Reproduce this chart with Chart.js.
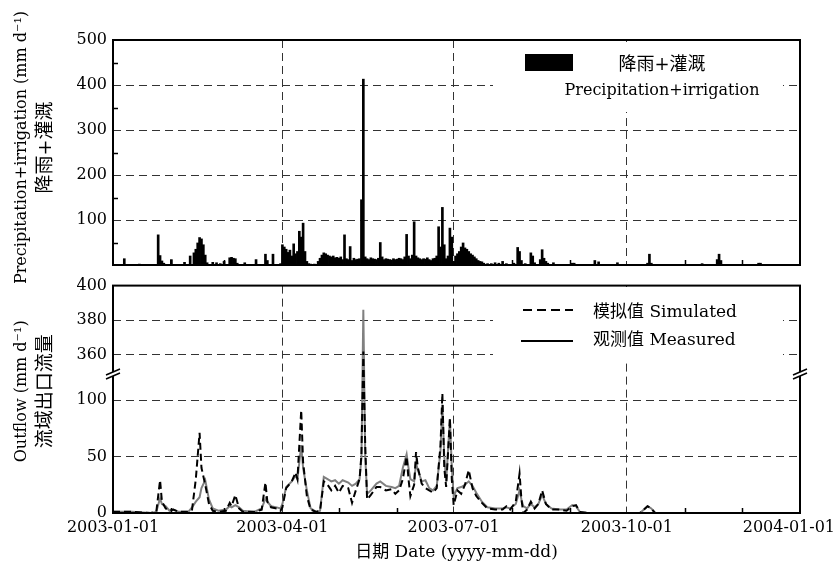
<!DOCTYPE html>
<html>
<head>
<meta charset="utf-8">
<script src="https://cdn.jsdelivr.net/npm/chart.js@4.4.1/dist/chart.umd.min.js"></script>
<style>
   html, body { margin: 0; padding: 0; background: #fff; }
   #wrap { position: relative; width: 836px; height: 570px; overflow: hidden; }
   canvas { position: absolute; left: 0; }
   #rainChart { top: 0; }
   #flowChart { top: 270px; }
</style>
</head>
<body>
<div id="wrap">
   <canvas id="rainChart" width="836" height="292"></canvas>
   <canvas id="flowChart" width="836" height="300"></canvas>
</div>
<script>
// x axis is day of year 2003 (0 = 2003-01-01)
const dayTicks = [0, 90, 181, 273, 365];
const dayTickLabels = ["2003-01-01", "2003-04-01", "2003-07-01", "2003-10-01", "2004-01-01"];
const monthDays = [31, 59, 120, 151, 212, 243, 304, 334];

const rainTicks = [0, 100, 200, 300, 400, 500];
const rainMinorTicks = [50, 150, 250, 350, 450];
const flowTicks = [0, 50, 100, 360, 380, 400];

// precipitation + irrigation (mm/d), daily bars
const rainDays = [6, 14, 24, 25, 26, 27, 31, 38, 41, 43, 44, 45, 46, 47, 48, 49, 50, 53, 55, 57, 59, 62, 63, 64, 65, 66, 70, 76, 81, 82, 85, 89,
   90, 91, 92, 93, 94, 95, 96, 97, 98, 99, 100, 101, 102, 103, 104, 105, 107, 109, 110, 111, 112, 113, 114, 115, 116, 117, 118, 119,
   120, 121, 122, 123, 124, 125, 126, 127, 128, 129, 130, 131, 132, 133, 134, 135, 136, 137, 138, 139, 140, 141, 142, 143, 144, 145,
   146, 147, 148, 149, 150, 151, 152, 153, 154, 155, 156, 157, 158, 159, 160, 161, 162, 163, 164, 165, 166, 167, 168, 169, 170, 171,
   172, 173, 174, 175, 176, 177, 178, 179, 180, 181, 182, 183, 184, 185, 186, 187, 188, 189, 190, 191, 192, 193, 194, 195, 196, 197,
   199, 201, 203, 205, 207, 209, 213, 215, 216, 217, 219, 222, 223, 224, 227, 228, 229, 230, 231, 234, 244, 245, 256, 258, 268,
   284, 285, 286, 313, 321, 322, 323, 343, 344];
const rainValues = [14, 2, 67, 21, 9, 4, 12, 6, 20, 27, 35, 49, 61, 58, 45, 22, 5, 6, 5, 3, 8, 16, 17, 15, 14, 4, 5, 12, 24, 10, 24, 3,
   45, 40, 35, 28, 33, 20, 47, 25, 30, 75, 62, 93, 30, 8, 3, 2, 2, 8, 15, 22, 27, 25, 22, 20, 18, 20, 16, 17,
   15, 18, 12, 67, 14, 12, 41, 10, 15, 12, 13, 14, 145, 413, 18, 14, 12, 16, 14, 13, 12, 15, 50, 18, 12, 14,
   13, 12, 11, 14, 12, 13, 15, 14, 12, 18, 68, 20, 14, 22, 96, 20, 16, 14, 12, 14, 13, 16, 12, 10, 14, 15,
   20, 85, 40, 128, 45, 14, 20, 82, 62, 8, 20, 25, 30, 40, 49, 38, 35, 30, 25, 22, 18, 14, 10, 8, 7, 4,
   3, 3, 5, 4, 8, 3, 4, 39, 30, 10, 3, 27, 20, 5, 12, 34, 15, 8, 4, 5, 4, 4, 10, 7, 5,
   4, 24, 4, 3, 12, 24, 10, 4, 4];

// outflow (mm/d)
const flowDays = [0, 10, 20, 23, 25, 26, 28, 30, 32, 35, 40, 42, 44, 46, 47, 49, 51, 53, 56, 60, 62, 63, 65, 67, 69, 75, 79, 81, 82, 84,
   87, 89, 90, 92, 95, 97, 98, 100, 101, 103, 105, 108, 110, 112, 114, 116, 118, 120, 122, 125, 127, 129, 131, 132, 133, 134, 135,
   137, 140, 142, 145, 148, 150, 152, 154, 156, 157, 158, 160, 161, 162, 164, 166, 168, 170, 172, 174, 175, 176, 177, 179, 180,
   181, 183, 185, 187, 189, 191, 193, 196, 199, 203, 207, 209, 211, 214, 216, 217, 218, 220, 222, 224, 226, 228, 230, 233, 237,
   241, 244, 246, 248, 252, 280, 284, 286, 288, 365];
const simulated = [1, 1, 0, 1, 29, 10, 4, 2, 3, 1, 1, 3, 30, 71, 40, 25, 8, 2, 1, 2, 9, 6, 16, 4, 1, 1, 3, 27, 10, 5,
   4, 2, 5, 22, 28, 36, 30, 91, 45, 15, 3, 1, 2, 28, 25, 20, 24, 18, 24, 22, 9, 20, 30, 52, 362, 60, 12,
   16, 23, 23, 20, 21, 17, 20, 30, 50, 30, 15, 25, 54, 40, 26, 22, 20, 18, 22, 60, 106, 40, 23, 84, 30,
   7, 20, 17, 25, 38, 22, 15, 9, 4, 3, 3, 6, 3, 10, 35, 12, 0, 3, 10, 4, 8, 20, 8, 3, 3,
   2, 6, 7, 1, 0, 0, 6, 4, 0, 0];
const measured = [1, 1, 0, 1, 13, 8, 6, 2, 3, 1, 1, 5, 10, 14, 22, 29, 12, 4, 2, 3, 6, 5, 7, 5, 2, 1, 4, 13, 10, 6,
   5, 4, 8, 23, 28, 33, 30, 60, 40, 20, 4, 1, 2, 32, 30, 28, 29, 26, 29, 27, 24, 26, 30, 49, 386, 50, 17,
   20, 26, 28, 24, 23, 22, 24, 40, 52, 40, 30, 28, 44, 38, 28, 29, 22, 20, 24, 55, 96, 50, 28, 83, 40,
   15, 22, 23, 25, 28, 24, 18, 10, 5, 4, 4, 5, 4, 8, 20, 12, 6, 4, 8, 5, 8, 16, 8, 4, 3,
   3, 7, 6, 1, 0, 0, 6, 4, 0, 0];

// broken y axis: values between BREAK_LOW and BREAK_HIGH are cut out
const BREAK_LOW = 123;
const BREAK_HIGH = 349;
const BREAK_RATIO = 1.535;

function squashFlow(v) {
   if (v <= BREAK_LOW) return v;
   if (v >= BREAK_HIGH) return BREAK_LOW + (v - BREAK_HIGH) * BREAK_RATIO;
   return BREAK_LOW;
}

class BrokenScale extends Chart.LinearScale {
   getPixelForValue(value) {
      return super.getPixelForValue(squashFlow(value));
   }
}
BrokenScale.id = "broken";
BrokenScale.defaults = Chart.LinearScale.defaults;
Chart.register(BrokenScale);

const FONT = '"DejaVu Serif", "Noto Sans CJK SC", serif';
Chart.defaults.font.family = FONT;
Chart.defaults.font.size = 16;
Chart.defaults.color = "#000";

const GRID_COLOR = "#333";
const GRID_DASH = [8, 5];

function setTicks(values) {
   return (axis) => {
      axis.ticks = values.map((v) => ({ value: v }));
   };
}

function innerGrid(lo, hi) {
   return {
      drawTicks: false,
      lineWidth: 1,
      color: (ctx) => (ctx.tick && ctx.tick.value > lo && ctx.tick.value < hi ? GRID_COLOR : "rgba(0,0,0,0)"),
   };
}

const panelDecor = {
   id: "panelDecor",
   beforeDatasetsDraw(chart, args, opts) {
      const ctx = chart.ctx;
      const b = opts.box;
      ctx.save();
      ctx.fillStyle = "#fff";
      ctx.fillRect(b[0], b[1], b[2], b[3]);
      ctx.restore();
   },
   afterDraw(chart, args, opts) {
      const ctx = chart.ctx;
      const ca = chart.chartArea;
      const xs = chart.scales.x;
      const ys = chart.scales.y;
      ctx.save();
      ctx.strokeStyle = "#000";
      ctx.lineWidth = 1.5;

      // month ticks along the bottom
      monthDays.forEach((d) => {
         const px = Math.round(xs.getPixelForValue(d)) + 0.5;
         ctx.beginPath();
         ctx.moveTo(px, ca.bottom);
         ctx.lineTo(px, ca.bottom - 5);
         ctx.stroke();
      });
      (opts.minorY || []).forEach((v) => {
         const py = Math.round(ys.getPixelForValue(v)) + 0.5;
         ctx.beginPath();
         ctx.moveTo(ca.left, py);
         ctx.lineTo(ca.left + 5, py);
         ctx.stroke();
      });

      // frame
      ctx.lineWidth = 2;
      ctx.strokeRect(ca.left, ca.top, ca.right - ca.left, ca.bottom - ca.top);

      // axis break marks
      if (opts.breakAt) {
         const py = ys.getPixelForValue(opts.breakAt);
         [ca.left, ca.right].forEach((px) => {
            ctx.fillStyle = "#fff";
            ctx.fillRect(px - 2, py - 2, 4, 4);
            ctx.lineWidth = 1.5;
            ctx.beginPath();
            ctx.moveTo(px - 7, py + 1);
            ctx.lineTo(px + 7, py - 5);
            ctx.moveTo(px - 7, py + 5);
            ctx.lineTo(px + 7, py - 1);
            ctx.stroke();
         });
      }

      ctx.fillStyle = "#000";
      ctx.textBaseline = "middle";

      // rotated y titles, two lines
      const cy = (ca.top + ca.bottom) / 2 + opts.titleShift;
      opts.yTitle.forEach((t) => {
         ctx.save();
         ctx.translate(t.x, cy);
         ctx.rotate(-Math.PI / 2);
         ctx.textAlign = "center";
         ctx.font = t.size + "px " + FONT;
         ctx.fillText(t.text, 0, 0);
         ctx.restore();
      });

      // last date label sits flush with the right edge
      if (opts.lastLabel) {
         ctx.textAlign = "right";
         ctx.font = "16px " + FONT;
         ctx.fillText(dayTickLabels[dayTickLabels.length - 1], chart.width - 1, ca.bottom + 5 + 9.6);
      }

      // legend
      if (opts.legend === "rain") {
         ctx.fillRect(525, 54, 48, 17);
         ctx.textAlign = "center";
         ctx.font = "18px " + FONT;
         ctx.fillText("降雨+灌溉", 662, 65);
         ctx.font = "16px " + FONT;
         ctx.fillText("Precipitation+irrigation", 662, 91);
      } else if (opts.legend === "flow") {
         ctx.lineWidth = 2;
         ctx.setLineDash([9, 5]);
         ctx.beginPath();
         ctx.moveTo(523, 40);
         ctx.lineTo(573, 40);
         ctx.stroke();
         ctx.setLineDash([]);
         ctx.beginPath();
         ctx.moveTo(521, 71);
         ctx.lineTo(573, 71);
         ctx.stroke();
         ctx.textAlign = "left";
         ctx.font = "17px " + FONT;
         ctx.fillText("模拟值 Simulated", 593, 43);
         ctx.fillText("观测值 Measured", 593, 71);
      }
      ctx.restore();
   },
};

const xAxis = (showLabels) => ({
   type: "linear",
   min: 0,
   max: 365,
   offset: false,
   afterBuildTicks: setTicks(dayTicks),
   ticks: {
      display: showLabels,
      autoSkip: false,
      maxRotation: 0,
      padding: 5,
      callback: (v, i) => (i < dayTickLabels.length - 1 ? dayTickLabels[i] : ""),
   },
   grid: Object.assign(innerGrid(0, 365), { offset: false }),
   border: { display: false, dash: GRID_DASH },
   title: {
      display: showLabels,
      text: "日期 Date (yyyy-mm-dd)",
      font: { size: 17 },
      padding: { top: 0, bottom: 7 },
   },
   afterFit: (s) => {
      s.height = showLabels ? 57 : 0;
      s.paddingLeft = 0;
      s.paddingRight = 0;
   },
});

const yAxisWidth = (s) => {
   s.width = 113;
};

// top panel: precipitation + irrigation bars
new Chart(document.getElementById("rainChart"), {
   type: "bar",
   data: {
      datasets: [
         {
            data: rainDays.map((d, i) => ({ x: d, y: rainValues[i] })),
            backgroundColor: "#000",
            borderWidth: 0,
            barThickness: 2,
         },
      ],
   },
   options: {
      responsive: false,
      animation: false,
      events: [],
      devicePixelRatio: 1,
      layout: { padding: { left: 0, right: 36, top: 40, bottom: 27 } },
      plugins: {
         legend: { display: false },
         tooltip: { enabled: false },
         panelDecor: {
            box: [493, 42, 290, 70],
            minorY: rainMinorTicks,
            legend: "rain",
            titleShift: -5,
            yTitle: [
               { text: "Precipitation+irrigation (mm d\u207B\u00B9)", x: 22, size: 16 },
               { text: "降雨+灌溉", x: 46, size: 19 },
            ],
         },
      },
      scales: {
         x: xAxis(false),
         y: {
            min: 0,
            max: 500,
            afterBuildTicks: setTicks(rainTicks),
            ticks: {
               autoSkip: false,
               padding: 6,
               callback: (v) => (v === 0 ? "" : v),
            },
            grid: innerGrid(0, 500),
            border: { display: false, dash: GRID_DASH },
            afterFit: yAxisWidth,
         },
      },
   },
   plugins: [panelDecor],
});

// bottom panel: outflow with broken y axis
new Chart(document.getElementById("flowChart"), {
   type: "line",
   data: {
      datasets: [
         {
            label: "模拟值 Simulated",
            data: flowDays.map((d, i) => ({ x: d, y: simulated[i] })),
            borderColor: "#000",
            borderWidth: 2,
            borderDash: [7, 4],
            pointRadius: 0,
            tension: 0,
            fill: false,
         },
         {
            label: "观测值 Measured",
            data: flowDays.map((d, i) => ({ x: d, y: measured[i] })),
            borderColor: "#808080",
            borderWidth: 2,
            pointRadius: 0,
            tension: 0,
            fill: false,
         },
      ],
   },
   options: {
      responsive: false,
      animation: false,
      events: [],
      devicePixelRatio: 1,
      layout: { padding: { left: 0, right: 36, top: 15, bottom: 0 } },
      plugins: {
         legend: { display: false },
         tooltip: { enabled: false },
         panelDecor: {
            box: [493, 17, 290, 74],
            breakAt: BREAK_LOW,
            legend: "flow",
            lastLabel: true,
            titleShift: -8,
            yTitle: [
               { text: "Outflow (mm d\u207B\u00B9)", x: 22, size: 16 },
               { text: "流域出口流量", x: 46, size: 19 },
            ],
         },
      },
      scales: {
         x: xAxis(true),
         y: {
            type: "broken",
            min: 0,
            max: squashFlow(400),
            afterBuildTicks: setTicks(flowTicks),
            ticks: { autoSkip: false, padding: 6 },
            grid: innerGrid(0, 400),
            border: { display: false, dash: GRID_DASH },
            afterFit: yAxisWidth,
         },
      },
   },
   plugins: [panelDecor],
});
</script>
</body>
</html>
